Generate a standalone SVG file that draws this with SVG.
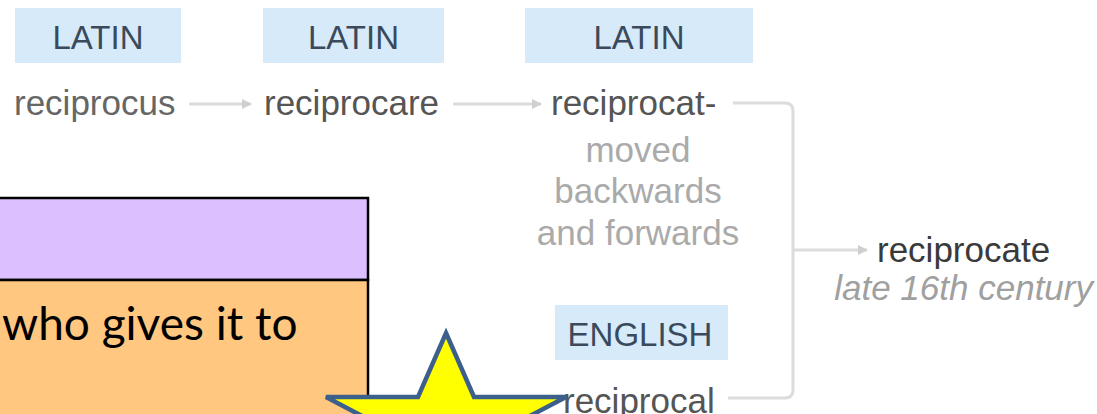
<svg xmlns="http://www.w3.org/2000/svg" width="1097" height="414" viewBox="0 0 1097 414">
<defs>
<style>
.lang{fill:#d6eafa}
.langt{font-family:"Liberation Sans",Arial,sans-serif;font-size:33px;fill:#3a4a5c;text-anchor:middle}
.word{font-family:"Liberation Sans",Arial,sans-serif;font-size:35px;fill:#555}
.mean{font-family:"Liberation Sans",Arial,sans-serif;font-size:35px;fill:#aaa;text-anchor:middle}
.conn{fill:none;stroke:#dcdcdc;stroke-width:3}
</style>
<marker id="ah" viewBox="0 0 10 10" refX="9" refY="5" markerWidth="10" markerHeight="12" markerUnits="userSpaceOnUse" orient="auto">
<path d="M0,0 L10,5 L0,10 Z" fill="#cfcfcf"/>
</marker>
</defs>
<rect width="1097" height="414" fill="#fff"/>

<g id="connectors">
<path class="conn" d="M189,104 H251" marker-end="url(#ah)"/>
<path class="conn" d="M453,104 H541" marker-end="url(#ah)"/>
<path class="conn" d="M733,103 H785 Q793,103 793,111 V390 Q793,398 785,398 H728"/>
<path class="conn" d="M793,250 H867" marker-end="url(#ah)"/>
</g>

<g id="node-reciprocus">
<rect class="lang" x="15" y="8" width="166" height="55"/>
<text class="langt" x="98" y="49">LATIN</text>
<text class="word" x="14" y="115" style="fill:#666">reciprocus</text>
</g>

<g id="node-reciprocare">
<rect class="lang" x="263" y="8" width="181" height="55"/>
<text class="langt" x="353.5" y="49">LATIN</text>
<text class="word" x="264" y="115">reciprocare</text>
</g>

<g id="node-reciprocat">
<rect class="lang" x="525" y="8" width="228" height="55"/>
<text class="langt" x="639" y="49">LATIN</text>
<text class="word" x="551" y="115">reciprocat-</text>
<text class="mean" x="638" y="162">moved</text>
<text class="mean" x="638" y="203">backwards</text>
<text class="mean" x="638" y="245">and forwards</text>
</g>

<g id="node-reciprocal">
<rect class="lang" x="555" y="305" width="173" height="55"/>
<text class="langt" x="640" y="346">ENGLISH</text>
<text class="word" x="563" y="413">reciprocal</text>
</g>

<g id="node-reciprocate">
<text class="word" x="877" y="262" style="fill:#3a3a3a">reciprocate</text>
<text class="word" x="1093" y="300" style="fill:#a0a0a0;font-style:italic;text-anchor:end">late 16th century</text>
</g>

<g id="panel">
<rect x="-3" y="198" width="371" height="82" fill="#dbbfff" stroke="#000" stroke-width="2.5"/>
<rect x="-3" y="280" width="371" height="140" fill="#ffc77f" stroke="#000" stroke-width="2.5"/>
<text x="2" y="340" font-family="Lato,'Open Sans',sans-serif" font-size="46" fill="#000">who gives it to</text>
</g>

<g id="star">
<polygon points="446,333 474,397 566,397 492,436 530,510 446,464 362,510 400,436 326,397 418,397" fill="#ffff00" stroke="#3d5f8c" stroke-width="4.5" stroke-linejoin="miter"/>
</g>
</svg>
